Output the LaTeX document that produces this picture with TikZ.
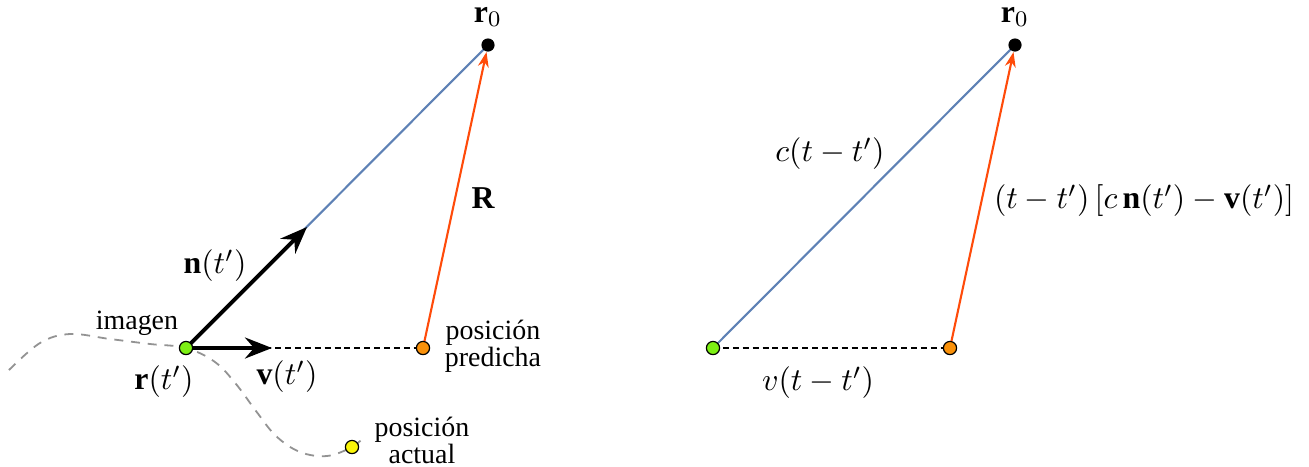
\RequirePackage{fix-cm}
\documentclass[tikz,border=0pt]{standalone}
\usepackage{fontspec}
\setmainfont{Liberation Serif}
\usetikzlibrary{arrows.meta}
\definecolor{mblue}{RGB}{94,129,181}
\definecolor{mred}{RGB}{255,75,10}
\definecolor{mgreen}{RGB}{125,240,20}
\definecolor{morange}{RGB}{250,145,10}
\definecolor{myellow}{RGB}{250,245,10}
\tikzset{
  pt/.style={circle,draw=black,line width=0.4pt,inner sep=0pt,minimum size=4.4pt},
  blk/.style={circle,fill=black,inner sep=0pt,minimum size=4.4pt},
  bluel/.style={mblue,line width=0.7pt},
  redarr/.style={mred,line width=0.7pt,-{Stealth[length=5pt,width=3.6pt,inset=1.6pt]}},
  blkarr/.style={black,line width=1.3pt,-{Stealth[length=9pt,width=7pt,inset=3pt]}},
  dashl/.style={black,line width=0.45pt,dash pattern=on 2pt off 1.3pt},
  traj/.style={gray!85,line width=0.6pt,dash pattern=on 3pt off 2.6pt},
  txt/.style={font=\fontsize{9.3}{9}\selectfont,align=center,inner sep=0pt},
  mth/.style={inner sep=0pt,font=\fontsize{10.6}{12}\selectfont},
}
\begin{document}
\begin{tikzpicture}[x=0.3333pt,y=-0.3333pt]
\useasboundingbox (0,0) rectangle (1309,466);
% ---------- left ----------
\coordinate (tstart) at (9,370);
\coordinate (tend) at (364,437);
\coordinate (Lg) at (186,348);
\coordinate (Lo) at (423,348);
\coordinate (Lr) at (488,45);
\coordinate (Ly) at (352,447);
\draw[traj] plot[smooth,tension=0.6] coordinates {(tstart) (40,343) (70,334) (110,339) (150,344) (Lg) (215,362) (236,384) (256,411) (276,436) (300,452) (327,456) (Ly) (tend)};
\draw[bluel] (Lg) -- (Lr);
\draw[dashl] (Lg) -- (Lo);
\draw[blkarr] (Lg) -- (307,227) coordinate (ntip);
\draw[blkarr] (Lg) -- (272,348) coordinate (vtip);
\node[blk] (r0L) at (Lr) {};
\node[pt,fill=mgreen] (gL) at (Lg) {};
\node[pt,fill=morange] (oL) at (Lo) {};
\node[pt,fill=myellow] (yL) at (Ly) {};
\draw[redarr] (oL) -- (r0L);
\node[mth] (r0Llab) at (488,17) {$\mathbf{r}_0$};
\node[mth] (Rlab) at (483,198) {$\mathbf{R}$};
\node[mth] (nlab) at (215,266) {$\mathbf{n}(t')$};
\node[mth] (rlab) at (164,382) {$\mathbf{r}(t')$};
\node[mth] (vlab) at (287,377) {$\mathbf{v}(t')$};
\node[txt] (imlab) at (137,323) {imagen};
\node[txt] (predlab) at (493,346) {posición\\predicha};
\node[txt] (actlab) at (422,440) {posición\\actual};
% ---------- right ----------
\coordinate (Rg) at (713,348);
\coordinate (Ro) at (950,348);
\coordinate (Rr) at (1015,45);
\draw[bluel] (Rg) -- (Rr);
\draw[dashl] (Rg) -- (Ro);
\node[blk] (r0R) at (Rr) {};
\node[pt,fill=mgreen] (gR) at (Rg) {};
\node[pt,fill=morange] (oR) at (Ro) {};
\draw[redarr] (oR) -- (r0R);
\node[mth] (r0Rlab) at (1015,17) {$\mathbf{r}_0$};
\node[mth] (clab) at (830,154) {$c(t-t')$};
\node[mth] (difflab) at (1144,201) {$(t-t')\,[c\,\mathbf{n}(t')-\mathbf{v}(t')]$};
\node[mth] (vtlab) at (818,383) {$v(t-t')$};
\end{tikzpicture}
\end{document}
